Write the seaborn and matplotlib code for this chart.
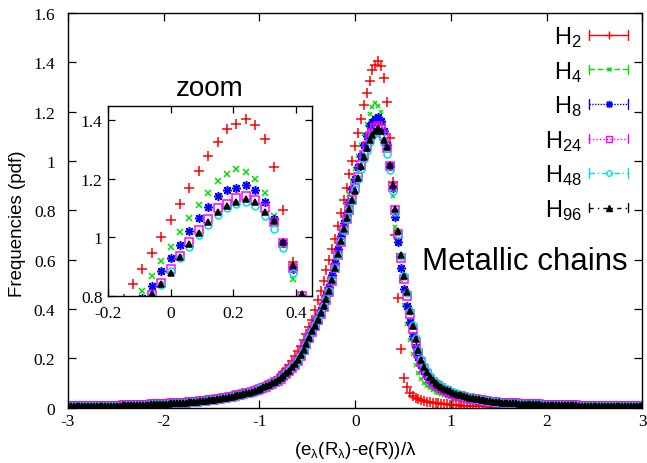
import numpy as np
import pandas as pd
import matplotlib
matplotlib.use("Agg")
import matplotlib.pyplot as plt
from matplotlib.lines import Line2D
from matplotlib.legend_handler import HandlerLine2D
from matplotlib.ticker import FuncFormatter
import seaborn as sns

# histogram bins: x = -3.00, -2.97, ... , 3.00 (step 0.03)
X_START = -3.0
X_STEP = 0.03

# far tails, where all chain lengths overlap
LEFT_TAIL = [  # x = -3.00 .. -1.05
    0.005, 0.005, 0.005, 0.005, 0.005, 0.006, 0.006, 0.006, 0.006, 0.006,
    0.006, 0.007, 0.007, 0.007, 0.007, 0.008, 0.008, 0.008, 0.008, 0.009,
    0.009, 0.009, 0.010, 0.010, 0.010, 0.011, 0.011, 0.012, 0.012, 0.013,
    0.013, 0.014, 0.014, 0.015, 0.015, 0.016, 0.017, 0.017, 0.018, 0.019,
    0.020, 0.021, 0.022, 0.023, 0.024, 0.025, 0.026, 0.027, 0.029, 0.030,
    0.032, 0.033, 0.035, 0.037, 0.039, 0.041, 0.043, 0.045, 0.047, 0.050,
    0.052, 0.055, 0.058, 0.061, 0.065, 0.068,
]
RIGHT_TAIL = [  # x = 1.53 .. 3.00
    0.021, 0.020, 0.019, 0.018, 0.018, 0.017, 0.016, 0.016, 0.015, 0.015,
    0.014, 0.014, 0.013, 0.013, 0.012, 0.012, 0.012, 0.011, 0.011, 0.011,
    0.010, 0.010, 0.010, 0.009, 0.009, 0.009, 0.009, 0.008, 0.008, 0.008,
    0.008, 0.008, 0.007, 0.007, 0.007, 0.007, 0.007, 0.006, 0.006, 0.006,
    0.006, 0.006, 0.006, 0.005, 0.005, 0.005, 0.005, 0.005, 0.005, 0.005,
]

# central part, x = -1.02 .. 1.50
H2_CORE = [
    0.073, 0.078, 0.083, 0.089, 0.095, 0.102, 0.110, 0.120, 0.131, 0.143,
    0.157, 0.172, 0.190, 0.208, 0.228, 0.250, 0.275, 0.300, 0.327, 0.355,
    0.395, 0.435, 0.475, 0.515, 0.557, 0.600, 0.643, 0.685, 0.735, 0.788,
    0.840, 0.891, 0.946, 1.000,
    1.060, 1.114, 1.169, 1.228, 1.277, 1.325, 1.369, 1.389, 1.406, 1.385,
    1.337, 1.241, 1.094, 0.914, 0.700, 0.445, 0.236, 0.122, 0.082, 0.058,
    0.046, 0.039, 0.034, 0.030, 0.027, 0.025, 0.023, 0.021, 0.019, 0.017,
    0.016, 0.014, 0.013, 0.012, 0.011, 0.010, 0.009, 0.008, 0.008, 0.007,
    0.007, 0.006, 0.006, 0.006, 0.005, 0.005, 0.005, 0.004, 0.004, 0.004,
    0.004,
]
H4_CORE = [
    0.073, 0.078, 0.083, 0.089, 0.095, 0.101, 0.108, 0.116, 0.124, 0.134,
    0.145, 0.157, 0.171, 0.187, 0.205, 0.226, 0.250, 0.277, 0.305, 0.332,
    0.358, 0.385, 0.414, 0.446, 0.480, 0.517, 0.563, 0.612, 0.664, 0.715,
    0.768, 0.817, 0.866, 0.920,
    0.966, 1.019, 1.066, 1.111, 1.152, 1.191, 1.217, 1.234, 1.223, 1.198,
    1.151, 1.074, 0.972, 0.857, 0.733, 0.620, 0.518, 0.418, 0.340, 0.275,
    0.218, 0.173, 0.142, 0.118, 0.101, 0.089, 0.079, 0.071, 0.065, 0.059,
    0.054, 0.050, 0.046, 0.043, 0.040, 0.037, 0.035, 0.033, 0.031, 0.029,
    0.028, 0.026, 0.025, 0.024, 0.023, 0.022, 0.021, 0.020, 0.020, 0.019,
    0.019,
]
H8_CORE = [
    0.072, 0.077, 0.082, 0.087, 0.093, 0.099, 0.106, 0.113, 0.121, 0.130,
    0.140, 0.152, 0.165, 0.180, 0.197, 0.217, 0.240, 0.266, 0.292, 0.318,
    0.343, 0.368, 0.395, 0.425, 0.456, 0.490, 0.536, 0.588, 0.643, 0.698,
    0.748, 0.791, 0.834, 0.886,
    0.928, 0.975, 1.021, 1.065, 1.103, 1.141, 1.160, 1.170, 1.177, 1.162,
    1.120, 1.063, 0.980, 0.890, 0.772, 0.672, 0.568, 0.482, 0.412, 0.348,
    0.292, 0.246, 0.207, 0.175, 0.150, 0.130, 0.114, 0.102, 0.092, 0.084,
    0.077, 0.071, 0.065, 0.060, 0.056, 0.052, 0.048, 0.045, 0.042, 0.040,
    0.037, 0.035, 0.033, 0.031, 0.029, 0.027, 0.026, 0.024, 0.023, 0.021,
    0.020,
]
H24_CORE = [
    0.070, 0.075, 0.080, 0.085, 0.091, 0.097, 0.103, 0.110, 0.118, 0.127,
    0.137, 0.148, 0.161, 0.175, 0.191, 0.210, 0.232, 0.257, 0.282, 0.307,
    0.331, 0.355, 0.381, 0.409, 0.438, 0.470, 0.515, 0.566, 0.620, 0.673,
    0.720, 0.763, 0.802, 0.842,
    0.891, 0.937, 0.983, 1.025, 1.061, 1.100, 1.114, 1.135, 1.141, 1.128,
    1.101, 1.052, 0.980, 0.894, 0.800, 0.705, 0.608, 0.522, 0.452, 0.378,
    0.318, 0.266, 0.221, 0.185, 0.157, 0.135, 0.118, 0.105, 0.094, 0.086,
    0.078, 0.072, 0.066, 0.061, 0.057, 0.053, 0.049, 0.046, 0.043, 0.041,
    0.038, 0.036, 0.034, 0.032, 0.030, 0.028, 0.027, 0.025, 0.024, 0.022,
    0.021,
]
H48_CORE = [
    0.073, 0.078, 0.083, 0.088, 0.094, 0.100, 0.106, 0.113, 0.121, 0.130,
    0.140, 0.151, 0.164, 0.178, 0.194, 0.213, 0.235, 0.260, 0.285, 0.310,
    0.334, 0.358, 0.384, 0.412, 0.441, 0.473, 0.517, 0.567, 0.621, 0.674,
    0.722, 0.764, 0.800, 0.838,
    0.886, 0.929, 0.966, 1.008, 1.042, 1.077, 1.100, 1.114, 1.120, 1.106,
    1.074, 1.029, 0.962, 0.878, 0.792, 0.706, 0.613, 0.532, 0.465, 0.392,
    0.334, 0.283, 0.235, 0.198, 0.169, 0.147, 0.128, 0.114, 0.103, 0.094,
    0.086, 0.079, 0.073, 0.067, 0.062, 0.058, 0.054, 0.051, 0.048, 0.045,
    0.042, 0.040, 0.037, 0.035, 0.033, 0.031, 0.029, 0.027, 0.025, 0.024,
    0.022,
]
H96_CORE = [
    0.072, 0.077, 0.082, 0.087, 0.093, 0.099, 0.105, 0.112, 0.120, 0.129,
    0.139, 0.150, 0.163, 0.177, 0.193, 0.212, 0.234, 0.259, 0.284, 0.309,
    0.333, 0.357, 0.383, 0.411, 0.440, 0.472, 0.517, 0.568, 0.623, 0.677,
    0.726, 0.768, 0.805, 0.840,
    0.878, 0.933, 0.978, 1.015, 1.052, 1.085, 1.107, 1.120, 1.132, 1.120,
    1.087, 1.055, 0.982, 0.904, 0.805, 0.717, 0.620, 0.535, 0.468, 0.392,
    0.332, 0.280, 0.232, 0.195, 0.166, 0.144, 0.125, 0.112, 0.101, 0.092,
    0.084, 0.077, 0.071, 0.066, 0.061, 0.057, 0.053, 0.050, 0.047, 0.044,
    0.041, 0.039, 0.036, 0.034, 0.032, 0.030, 0.028, 0.026, 0.025, 0.023,
    0.022,
]

SERIES = ["H$_{2}$", "H$_{4}$", "H$_{8}$", "H$_{24}$", "H$_{48}$", "H$_{96}$"]
CORES = [H2_CORE, H4_CORE, H8_CORE, H24_CORE, H48_CORE, H96_CORE]

# per-series look (gnuplot-like)
COLORS = ["#ff0000", "#00dd00", "#0000ff", "#ff00ff", "#00e0e0", "#000000"]
MARKERS = ["+", "x", (8, 2, 0), "s", "o", "^"]
SIZES_MAIN = [7, 3, 6.5, 5.5, 5, 5]
SIZES_ZOOM = [7, 5, 6.5, 5.5, 5, 5]
FILLED = [False, False, False, False, False, True]
LSTYLES = ["-", (0, (4, 2)), (0, (1, 1)), (0, (1, 1.5)), (0, (4, 2, 1, 2)), (0, (3, 3, 1, 3))]


class CapHandler(HandlerLine2D):
    """legend sample drawn as an error bar: line with end caps"""
    def create_artists(self, legend, orig_handle, xdescent, ydescent,
                       width, height, fontsize, trans):
        arts = super().create_artists(legend, orig_handle, xdescent, ydescent,
                                      width, height, fontsize, trans)
        yc = (height - ydescent) / 2
        for xc in (-xdescent, width - xdescent):
            arts.append(Line2D([xc, xc], [yc - 0.2 * fontsize, yc + 0.2 * fontsize],
                               color=orig_handle.get_color(), lw=1.0, transform=trans))
        return arts


def main():
    rows = []
    for name, core in zip(SERIES, CORES):
        y = LEFT_TAIL + core + RIGHT_TAIL
        x = np.round(X_START + X_STEP * np.arange(len(y)), 2)
        rows.append(pd.DataFrame({"x": x, "y": y, "series": name}))
    df = pd.concat(rows, ignore_index=True)

    sns.set_style("ticks")
    plt.rcParams["font.family"] = ["Liberation Sans", "DejaVu Sans"]
    plt.rcParams["mathtext.default"] = "regular"
    for key in ("text.color", "axes.labelcolor", "xtick.color", "ytick.color"):
        plt.rcParams[key] = "black"

    fig = plt.figure(figsize=(6.47, 4.64), dpi=100)
    ax = fig.add_axes([0.1051, 0.1192, 0.8878, 0.8506])
    axins = fig.add_axes([0.1669, 0.3606, 0.3148, 0.4095])

    for a, sizes in ((ax, SIZES_MAIN), (axins, SIZES_ZOOM)):
        for i, name in enumerate(SERIES):
            sub = df[df["series"] == name]
            sns.lineplot(
                data=sub, x="x", y="y", ax=a,
                estimator=None, errorbar=None, sort=False, legend=False,
                color=COLORS[i], linestyle="none",
                marker=MARKERS[i], markersize=sizes[i],
                markeredgecolor=COLORS[i], markeredgewidth=1.1,
                markerfacecolor=COLORS[i] if FILLED[i] else "none",
            )

    fmt = FuncFormatter(lambda v, p: f"{v:g}")

    ax.set_xlim(-3, 3)
    ax.set_ylim(0, 1.6)
    ax.set_xticks(np.arange(-3, 3.01, 1))
    ax.set_yticks(np.arange(0, 1.61, 0.2))
    ax.xaxis.set_major_formatter(fmt)
    ax.yaxis.set_major_formatter(fmt)
    ax.tick_params(direction="in", length=6, width=0.9, top=True, right=True,
                   labelsize=12.5, labelfontfamily="Liberation Serif")
    ax.tick_params(axis="x", pad=4)
    ax.tick_params(axis="y", pad=9)
    ax.set_xlabel("(e$_{λ}$(R$_{λ}$)-e(R))/λ", fontsize=13.5, labelpad=7)
    ax.set_ylabel("Frequencies (pdf)", fontsize=13.5)
    ax.yaxis.set_label_coords(-0.073, 0.468)

    axins.set_xlim(-0.2, 0.45)
    axins.set_ylim(0.8, 1.45)
    axins.set_xticks([-0.2, 0, 0.2, 0.4])
    axins.set_yticks([0.8, 1.0, 1.2, 1.4])
    axins.xaxis.set_major_formatter(fmt)
    axins.yaxis.set_major_formatter(fmt)
    axins.tick_params(direction="in", length=5, width=0.9, top=True, right=True,
                      labelsize=12.5, labelfontfamily="Liberation Serif", pad=4)
    axins.tick_params(axis="x", pad=7)
    axins.set_xlabel("")
    axins.set_ylabel("")
    axins.set_title("zoom", fontsize=20, pad=8)

    for a in (ax, axins):
        for s in a.spines.values():
            s.set_linewidth(1.0)
            s.set_color("black")

    ax.text(0.70, 0.595, "Metallic chains", fontsize=22.5, va="center", ha="left")

    handles = [
        Line2D([], [], color=COLORS[i], linestyle=LSTYLES[i], lw=1.0,
               marker=MARKERS[i], markersize=SIZES_MAIN[i] * 0.8,
               markeredgecolor=COLORS[i], markeredgewidth=1.0,
               markerfacecolor=COLORS[i] if FILLED[i] else "none")
        for i in range(len(SERIES))
    ]
    ax.legend(handles, SERIES, handler_map={Line2D: CapHandler()},
              loc="upper right", bbox_to_anchor=(0.975, 0.972),
              frameon=False, markerfirst=False, numpoints=1,
              handlelength=1.65, handletextpad=0.3, labelspacing=0.41,
              fontsize=17, borderpad=0, borderaxespad=0)

    fig.savefig("out.png", dpi=100)
    plt.close(fig)


if __name__ == "__main__":
    main()
